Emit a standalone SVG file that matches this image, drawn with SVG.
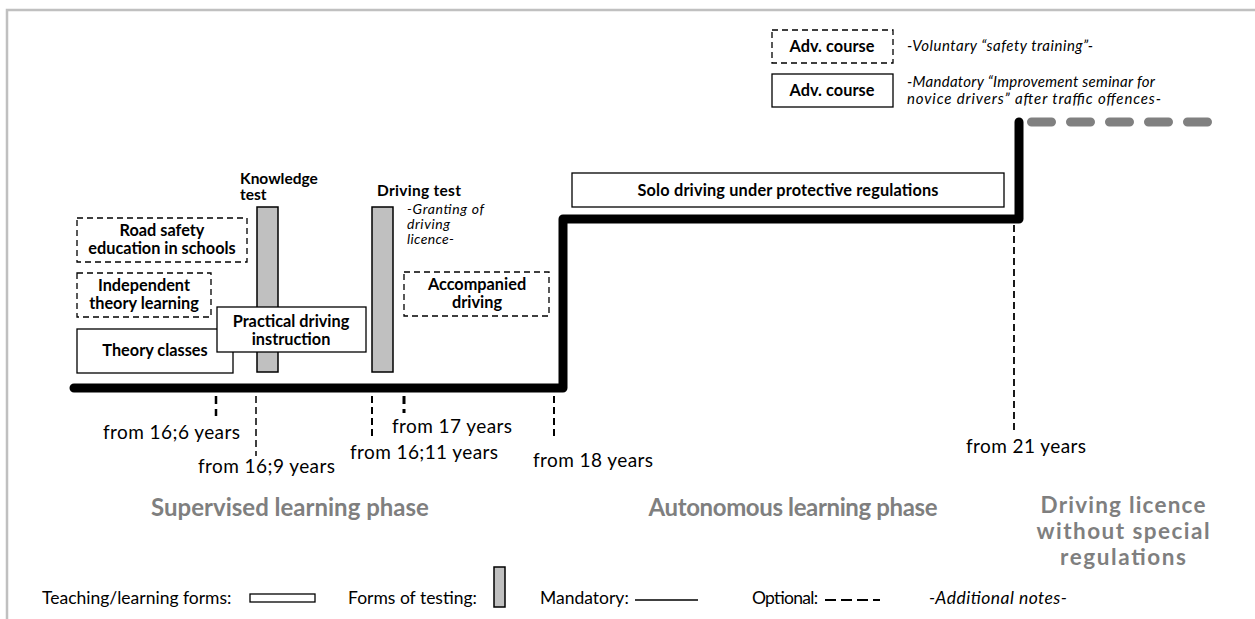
<svg xmlns="http://www.w3.org/2000/svg" width="1255" height="619" viewBox="0 0 1255 619">
  <style>
    text { font-family: Lato, "Liberation Sans", sans-serif; fill: #000; }
    .node { font-weight: bold; font-size: 16.3px; text-anchor: middle; }
    .lbl { font-weight: bold; font-size: 15.5px; }
    .note { font-style: italic; font-size: 15px; }
    .small { font-size: 14px; }
    .age { font-size: 19px; }
    .phase { font-weight: bold; font-size: 24px; fill: #7f7f7f; text-anchor: middle; }
    .stack { font-size: 22.5px; }
    .legend { font-size: 17.5px; }
    .box { fill: #fff; stroke: #000; stroke-width: 1.3; }
    .opt { fill: #fff; stroke: #000; stroke-width: 1.3; stroke-dasharray: 6 4; }
    .test { fill: #c0c0c0; stroke: #000; stroke-width: 1.5; }
    .tick { stroke: #000; fill: none; }
  </style>

  <!-- frame -->
  <path d="M7 619 V10 H1255" fill="none" stroke="#c0c0c0" stroke-width="2.5"/>

  <!-- timeline and age ticks -->
  <g id="connectors">
    <path d="M74 388 H563 V219 H1019 V122" fill="none" stroke="#000" stroke-width="9" stroke-linecap="round" stroke-linejoin="round"/>
    <path d="M1031.5 122 H1215" fill="none" stroke="#808080" stroke-width="9" stroke-linecap="round" stroke-dasharray="20 19"/>
    <line class="tick" x1="216" y1="396" x2="216" y2="416" stroke-width="2.5" stroke-dasharray="8 5"/>
    <line class="tick" x1="256" y1="396" x2="256" y2="456" stroke-width="1.5" stroke-dasharray="7 4"/>
    <line class="tick" x1="372" y1="396" x2="372" y2="440" stroke-width="2" stroke-dasharray="7 4"/>
    <line class="tick" x1="404" y1="396" x2="404" y2="413" stroke-width="3" stroke-dasharray="8 5"/>
    <line class="tick" x1="554" y1="396" x2="554" y2="440" stroke-width="2" stroke-dasharray="7 4"/>
    <line class="tick" x1="1014" y1="225" x2="1014" y2="430" stroke-width="1.8" stroke-dasharray="7 4"/>
  </g>

  <!-- age labels -->
  <g id="ages">
    <text class="age" x="103" y="439" textLength="137">from 16;6 years</text>
    <text class="age" x="198" y="473" textLength="137">from 16;9 years</text>
    <text class="age" x="350" y="459" textLength="148">from 16;11 years</text>
    <text class="age" x="392" y="433" textLength="120">from 17 years</text>
    <text class="age" x="533" y="467" textLength="120">from 18 years</text>
    <text class="age" x="966" y="453" textLength="120">from 21 years</text>
  </g>

  <g id="road-safety">
    <rect class="opt" x="77" y="218" width="170" height="44"/>
    <text class="node" x="162" y="236">Road safety</text>
    <text class="node" x="162" y="254">education in schools</text>
  </g>

  <g id="independent-theory">
    <rect class="opt" x="77" y="273" width="134" height="44"/>
    <text class="node" x="144" y="291">Independent</text>
    <text class="node" x="144" y="309">theory learning</text>
  </g>

  <g id="theory-classes">
    <rect class="box" x="77" y="329" width="156" height="44"/>
    <text class="node" x="155" y="356">Theory classes</text>
  </g>

  <g id="knowledge-test">
    <rect class="test" x="257" y="207" width="21" height="165"/>
    <text class="lbl" x="240" y="184">Knowledge</text>
    <text class="lbl" x="240" y="200">test</text>
  </g>

  <g id="practical-driving">
    <rect class="box" x="217" y="307" width="149" height="45"/>
    <text class="node" x="291" y="327">Practical driving</text>
    <text class="node" x="291" y="345">instruction</text>
  </g>

  <g id="driving-test">
    <rect class="test" x="372" y="207" width="21" height="165"/>
    <text class="lbl" x="377" y="196" textLength="84">Driving test</text>
    <text class="note small" x="407" y="214" textLength="77">-Granting of</text>
    <text class="note small" x="407" y="229" textLength="43">driving</text>
    <text class="note small" x="407" y="244" textLength="47">licence-</text>
  </g>

  <g id="accompanied-driving">
    <rect class="opt" x="404" y="272" width="145" height="44"/>
    <text class="node" x="477" y="290">Accompanied</text>
    <text class="node" x="477" y="308">driving</text>
  </g>

  <g id="solo-driving">
    <rect class="box" x="572" y="173" width="432" height="34"/>
    <text class="node" x="788" y="196" textLength="301">Solo driving under protective regulations</text>
  </g>

  <g id="adv-course-voluntary">
    <rect class="opt" x="772" y="30" width="121" height="33"/>
    <text class="node" x="832" y="52" textLength="85">Adv. course</text>
    <text class="note" x="907" y="51" textLength="186">-Voluntary “safety training”-</text>
  </g>

  <g id="adv-course-mandatory">
    <rect class="box" x="772" y="74" width="121" height="33"/>
    <text class="node" x="832" y="96" textLength="85">Adv. course</text>
    <text class="note" x="907" y="87" textLength="248">-Mandatory “Improvement seminar for</text>
    <text class="note" x="907" y="104" textLength="254">novice drivers” after traffic offences-</text>
  </g>

  <!-- phases -->
  <g id="phases">
    <text class="phase" x="290" y="516">Supervised learning phase</text>
    <text class="phase" x="793" y="516" textLength="289">Autonomous learning phase</text>
    <text class="phase stack" x="1123" y="513" textLength="165">Driving licence</text>
    <text class="phase stack" x="1123" y="539" textLength="173">without special</text>
    <text class="phase stack" x="1123" y="565" textLength="126">regulations</text>
  </g>

  <!-- legend -->
  <g id="legend">
    <text class="legend" x="42" y="604">Teaching/learning forms:</text>
    <rect x="250" y="594" width="65" height="8" fill="#fff" stroke="#000" stroke-width="1.3"/>
    <text class="legend" x="348" y="604">Forms of testing:</text>
    <rect class="test" x="494" y="567" width="11" height="40"/>
    <text class="legend" x="540" y="604">Mandatory:</text>
    <line x1="635" y1="600" x2="698" y2="600" stroke="#000" stroke-width="1.3"/>
    <text class="legend" x="752" y="604" textLength="66">Optional:</text>
    <line x1="825" y1="600" x2="880" y2="600" stroke="#000" stroke-width="2" stroke-dasharray="11 5"/>
    <text class="legend note" x="929" y="604" textLength="138">-Additional notes-</text>
  </g>
</svg>
